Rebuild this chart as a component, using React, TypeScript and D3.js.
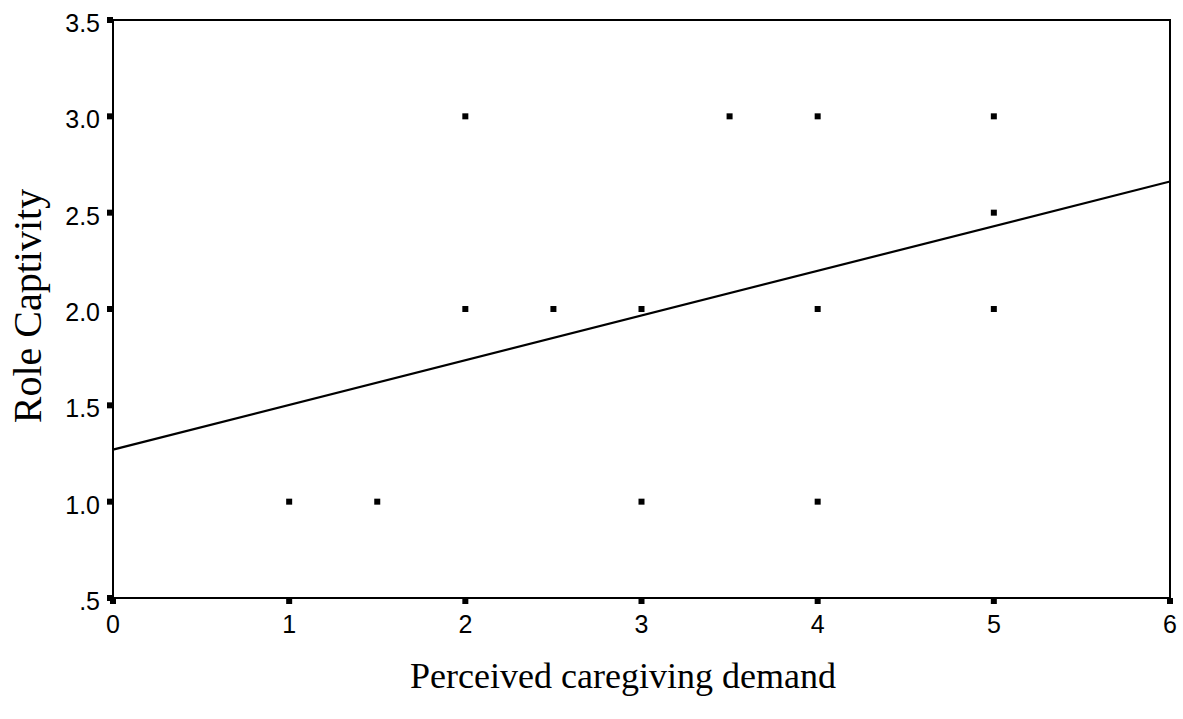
import React from "react";
import * as d3 from "d3";

const xValues = [1, 1.5, 2, 2, 2.5, 3, 3, 3.5, 4, 4, 4, 5, 5, 5];
const yValues = [1, 1, 3, 2, 2, 2, 1, 3, 3, 2, 1, 3, 2.5, 2];
const xTicks = [0, 1, 2, 3, 4, 5, 6];
const yTicks = [0.5, 1.0, 1.5, 2.0, 2.5, 3.0, 3.5];
const yTickLabels = [".5", "1.0", "1.5", "2.0", "2.5", "3.0", "3.5"];
const fitIntercept = 1.27;
const fitSlope = 0.232;

export default function App() {
  const W = 1183, H = 719;
  const left = 113, right = 1170, top = 20, bottom = 598;
  const x = d3.scaleLinear().domain([0, 6]).range([left, right]);
  const y = d3.scaleLinear().domain([0.5, 3.5]).range([bottom, top]);
  const line = d3.line<number>().x((d) => x(d)).y((d) => y(fitIntercept + fitSlope * d));
  const sans = "'Liberation Sans', Arial, sans-serif";
  const serif = "'Liberation Serif', 'Times New Roman', serif";
  return (
    <svg width={W} height={H} style={{ position: "absolute", left: 0, top: 0, background: "#fff" }}>
      <rect x={0} y={0} width={W} height={H} fill="#fff" />
      <rect x={left} y={top} width={right - left} height={bottom - top} fill="none" stroke="#000" strokeWidth={2} />
      {yTicks.map((t, i) => (
        <g key={"y" + i}>
          <rect x={left - 6} y={y(t) - 3} width={6} height={6} fill="#000" />
          <text x={left - 13} y={y(t) + 12} textAnchor="end" fontFamily={sans} fontSize={25} fill="#000">
            {yTickLabels[i]}
          </text>
        </g>
      ))}
      {xTicks.map((t, i) => (
        <g key={"x" + i}>
          <rect x={x(t) - 3} y={bottom} width={6} height={6} fill="#000" />
          <text x={x(t)} y={bottom + 35} textAnchor="middle" fontFamily={sans} fontSize={25} fill="#000">
            {t}
          </text>
        </g>
      ))}
      <path d={line([0, 6]) || ""} fill="none" stroke="#000" strokeWidth={2.2} />
      {xValues.map((xv, i) => (
        <rect key={"p" + i} x={x(xv) - 3} y={y(yValues[i]) - 3} width={6} height={6} fill="#000" />
      ))}
      <text
        transform={`translate(41, 306) rotate(-90)`}
        textAnchor="middle"
        fontFamily={serif}
        fontSize={40}
        fill="#000"
      >
        Role Captivity
      </text>
      <text x={623} y={688} textAnchor="middle" fontFamily={serif} fontSize={36} fill="#000">
        Perceived caregiving demand
      </text>
    </svg>
  );
}
